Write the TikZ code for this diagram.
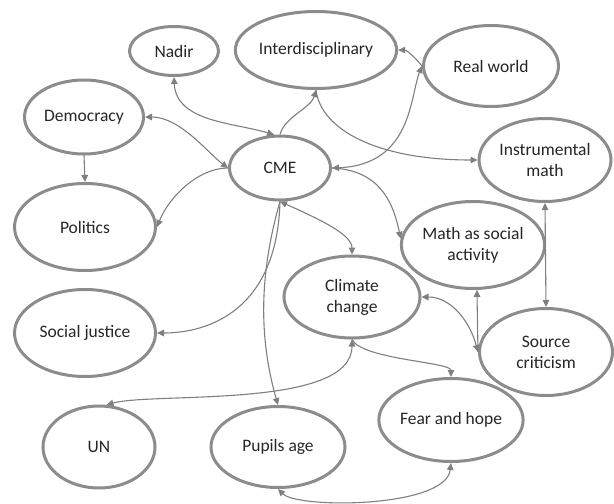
\documentclass[tikz,border=0pt]{standalone}
\usepackage{fontspec}
\setmainfont{Carlito}
\usetikzlibrary{shapes.geometric,arrows.meta}
\definecolor{edgegray}{HTML}{8C8C8C}
\definecolor{linegray}{HTML}{7F7F7F}
\definecolor{txt}{HTML}{262626}
\begin{document}
\begin{tikzpicture}[x=1pt,y=-1pt,
  bubble/.style={ellipse, draw=edgegray, line width=3pt, fill=white, text=txt,
    font=\fontsize{17.5}{21}\selectfont, align=center, inner sep=0pt},
  link/.style={draw=linegray, line width=1.1pt, >={Triangle[length=7pt,width=6.5pt]}},
]
\useasboundingbox (0,0) rectangle (614,504);
\node[bubble, minimum width=89pt, minimum height=49pt] (nadir) at (174,51) {Nadir};
\node[bubble, minimum width=151pt, minimum height=77pt] (inter) at (316,50) {Interdisciplinary};
\node[bubble, minimum width=135pt, minimum height=81pt] (real) at (491,66) {Real world};
\node[bubble, minimum width=119pt, minimum height=74pt] (demo) at (84,117) {Democracy};
\node[bubble, minimum width=141pt, minimum height=87pt] (pol) at (85,227) {Politics};
\node[bubble, minimum width=101pt, minimum height=64pt] (cme) at (280,168) {CME};
\node[bubble, minimum width=132pt, minimum height=83pt] (instr) at (545,160) {Instrumental\\math};
\node[bubble, minimum width=143pt, minimum height=87pt] (mathsoc) at (473,245) {Math as social\\activity};
\node[bubble, minimum width=136pt, minimum height=82pt] (climate) at (352,297) {Climate\\change};
\node[bubble, minimum width=133pt, minimum height=87pt] (source) at (546,352) {Source\\criticism};
\node[bubble, minimum width=141pt, minimum height=87pt] (socj) at (85,333) {Social justice};
\node[bubble, minimum width=112pt, minimum height=82pt] (un) at (99,447) {UN};
\node[bubble, minimum width=134pt, minimum height=81pt] (pupils) at (278,447) {Pupils age};
\node[bubble, minimum width=135pt, minimum height=83pt] (fear) at (451,420) {Fear and hope};

\draw[link,<->] (nadir.south) .. controls +(2,45) and +(-40,-12) .. (cme.100);
\draw[link,->] (cme.north) .. controls +(5,-18) and +(-5,18) .. (inter.south);
\draw[link,<->] (demo.east) .. controls +(35,0) and +(-20,-15) .. (cme.west);
\draw[link,->] (demo.south) -- (pol.north);
\draw[link,->] (cme.west) .. controls +(-30,0) and +(12,-30) .. (pol.east);
\draw[link,<->] (cme.east) .. controls +(80,-3) and +(-12,30) .. (real.west);
\draw[link,->] (real.west) .. controls +(-8,-10) and +(8,0) .. (inter.east);
\draw[link,->] (inter.south) .. controls +(5,40) and +(-100,0) .. (instr.west);
\draw[link,->] (cme.east) .. controls +(45,2) and +(-8,-40) .. (mathsoc.175);
\draw[link,<->] (cme.south) .. controls +(40,18) and +(0,-20) .. (climate.north);
\draw[link,->] (cme.south) .. controls +(-20,70) and +(-20,-70) .. (pupils.north);
\draw[link,->] (cme.south) .. controls +(-3,110) and +(50,0) .. (socj.east);
\draw[link,<->] (climate.south) .. controls +(0,70) and +(47,-13) .. (un.80);
\draw[link,->] (climate.south) .. controls +(10,20) and +(0,-15) .. (fear.north);
\draw[link,<->] (pupils.south) .. controls +(20,20) and +(-5,45) .. (fear.south);
\draw[link,<->] (source.west) .. controls +(-8,-30) and +(30,0) .. (climate.east);
\draw[link,->] (source.west) -- (mathsoc.-85);
\draw[link,<->] (instr.south) -- (source.north);
\end{tikzpicture}
\end{document}
